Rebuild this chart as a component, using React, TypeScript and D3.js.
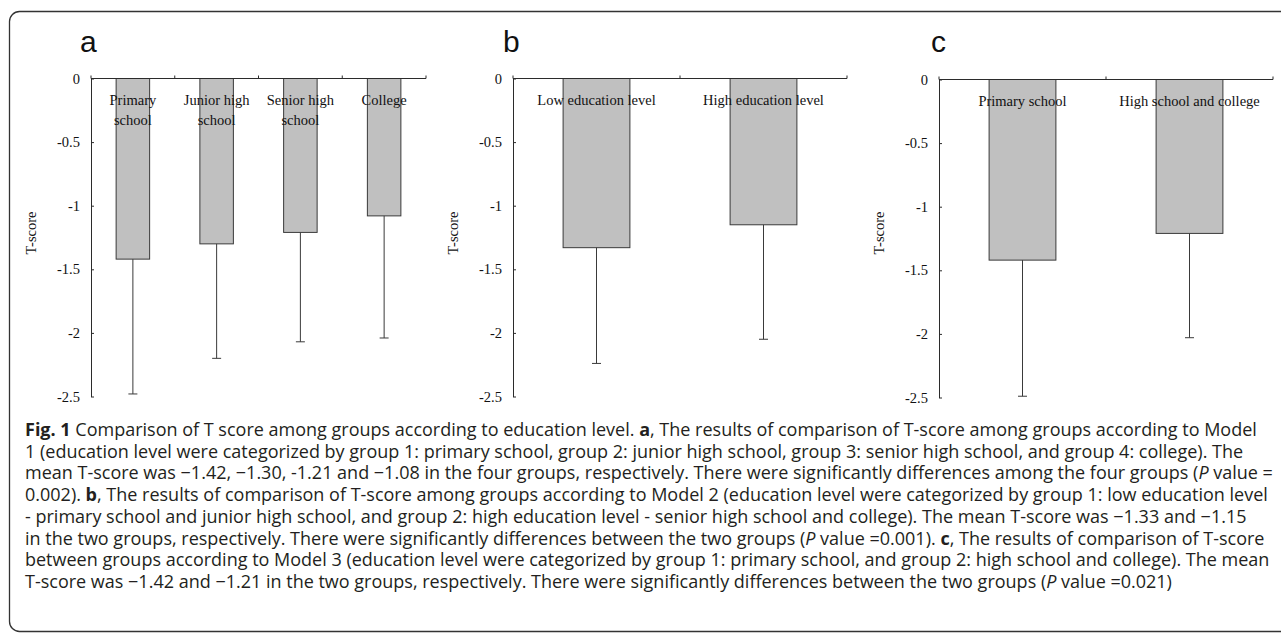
import React, { useEffect, useRef } from 'react';
import * as d3 from 'd3';

// tick labels shared by the three panels
const yTicks = [0, -0.5, -1, -1.5, -2, -2.5];

// panel a: model 1
const catsA = ['Primary\nschool', 'Junior high\nschool', 'Senior high\nschool', 'College'];
const meanA = [-1.42, -1.30, -1.21, -1.08];
const sdA = [1.06, 0.90, 0.86, 0.96];

// panel b: model 2
const catsB = ['Low education level', 'High education level'];
const meanB = [-1.33, -1.15];
const sdB = [0.91, 0.90];

// panel c: model 3
const catsC = ['Primary school', 'High school and college'];
const meanC = [-1.42, -1.21];
const sdC = [1.07, 0.82];

const ink = '#2b2b2b';
const serif = '"Liberation Serif", "Times New Roman", serif';

function drawPanel(svg, p) {
  const xb = d3.scaleBand().domain(p.cats).range([p.x0, p.x1]);
  const y = d3.scaleLinear().domain([0, -2.5]).range([p.y0, p.y1]);
  const bw = xb.bandwidth() * 0.4;
  const g = svg.append('g');

  // 柱子
  g.selectAll('rect.bar').data(p.means).join('rect')
    .attr('class', 'bar')
    .attr('x', (d, i) => xb(p.cats[i]) + xb.bandwidth() / 2 - bw / 2)
    .attr('y', y(0))
    .attr('width', bw)
    .attr('height', d => y(d) - y(0))
    .attr('fill', '#c0c0c0')
    .attr('stroke', '#3a3a3a')
    .attr('stroke-width', 1);

  // error bars (downwards only)
  const err = g.selectAll('g.err').data(p.means).join('g').attr('class', 'err');
  err.append('line')
    .attr('x1', (d, i) => xb(p.cats[i]) + xb.bandwidth() / 2)
    .attr('x2', (d, i) => xb(p.cats[i]) + xb.bandwidth() / 2)
    .attr('y1', d => y(d))
    .attr('y2', (d, i) => y(d - p.sds[i]))
    .attr('stroke', '#3a3a3a');
  err.append('line')
    .attr('x1', (d, i) => xb(p.cats[i]) + xb.bandwidth() / 2 - 4.5)
    .attr('x2', (d, i) => xb(p.cats[i]) + xb.bandwidth() / 2 + 4.5)
    .attr('y1', (d, i) => y(d - p.sds[i]))
    .attr('y2', (d, i) => y(d - p.sds[i]))
    .attr('stroke', '#3a3a3a');

  // y 轴
  const yAxis = d3.axisLeft(y)
    .tickValues(yTicks)
    .tickSizeInner(-3)
    .tickSizeOuter(0)
    .tickPadding(11)
    .tickFormat(d => String(d));
  const ya = g.append('g').attr('transform', `translate(${p.x0},0)`).call(yAxis);
  ya.select('.domain').attr('stroke', ink);
  ya.selectAll('.tick line').attr('stroke', ink);
  ya.selectAll('text')
    .attr('font-family', serif)
    .attr('font-size', 14.5)
    .attr('fill', '#111');

  // x 轴 (category boundaries, ticks pointing up)
  g.append('line')
    .attr('x1', p.x0).attr('x2', p.x1)
    .attr('y1', y(0)).attr('y2', y(0))
    .attr('stroke', ink);
  const bounds = p.cats.map(c => xb(c)).concat([p.x1]);
  g.selectAll('line.xt').data(bounds).join('line')
    .attr('class', 'xt')
    .attr('x1', d => d).attr('x2', d => d)
    .attr('y1', y(0)).attr('y2', y(0) - 3)
    .attr('stroke', ink);

  // category labels inside the plot
  const lab = g.selectAll('text.cat').data(p.cats).join('text')
    .attr('class', 'cat')
    .attr('text-anchor', 'middle')
    .attr('font-family', serif)
    .attr('font-size', 14.5)
    .attr('fill', '#111');
  lab.each(function (c) {
    const cx = xb(c) + xb.bandwidth() / 2;
    c.split('\n').forEach((s, k) => {
      d3.select(this).append('tspan')
        .attr('x', cx)
        .attr('y', y(0) + 26.5 + k * 19.5)
        .text(s);
    });
  });

  // T-score
  g.append('text')
    .attr('transform', `translate(${p.x0 - 55},233) rotate(-90)`)
    .attr('text-anchor', 'middle')
    .attr('font-family', serif)
    .attr('font-size', 14.5)
    .attr('fill', '#111')
    .text('T-score');

  // panel letter
  g.append('text')
    .attr('x', p.letterX)
    .attr('y', 52)
    .attr('font-family', '"Liberation Sans", Arial, sans-serif')
    .attr('font-size', 30)
    .attr('fill', '#111')
    .text(p.letter);
}

const captionLines = [
  [['b', 'Fig. 1'], ['', ' Comparison of T score among groups according to education level. '], ['b', 'a'], ['', ', The results of comparison of T-score among groups according to Model']],
  [['', '1 (education level were categorized by group 1: primary school, group 2: junior high school, group 3: senior high school, and group 4: college). The']],
  [['', 'mean T-score was \u22121.42, \u22121.30, -1.21 and \u22121.08 in the four groups, respectively. There were significantly differences among the four groups ('], ['i', 'P'], ['', ' value =']],
  [['', '0.002). '], ['b', 'b'], ['', ', The results of comparison of T-score among groups according to Model 2 (education level were categorized by group 1: low education level']],
  [['', '- primary school and junior high school, and group 2: high education level - senior high school and college). The mean T-score was \u22121.33 and \u22121.15']],
  [['', 'in the two groups, respectively. There were significantly differences between the two groups ('], ['i', 'P'], ['', ' value =0.001). '], ['b', 'c'], ['', ', The results of comparison of T-score']],
  [['', 'between groups according to Model 3 (education level were categorized by group 1: primary school, and group 2: high school and college). The mean']],
  [['', 'T-score was \u22121.42 and \u22121.21 in the two groups, respectively. There were significantly differences between the two groups ('], ['i', 'P'], ['', ' value =0.021)']],
];

export default function App() {
  const ref = useRef(null);

  useEffect(() => {
    const svg = d3.select(ref.current).select('g.charts');
    svg.selectAll('*').remove();
    drawPanel(svg, { cats: catsA, means: meanA, sds: sdA, x0: 91, x1: 426, y0: 78.5, y1: 396.5, letter: 'a', letterX: 80 });
    drawPanel(svg, { cats: catsB, means: meanB, sds: sdB, x0: 513, x1: 847, y0: 78.5, y1: 396.5, letter: 'b', letterX: 503 });
    drawPanel(svg, { cats: catsC, means: meanC, sds: sdC, x0: 939, x1: 1273, y0: 79.5, y1: 397.5, letter: 'c', letterX: 931 });

    // keep caption lines from running past the right edge of the text block
    d3.select(ref.current).selectAll('text.cap').each(function () {
      const w = this.getComputedTextLength();
      if (w > 1250) d3.select(this).attr('textLength', 1250).attr('lengthAdjust', 'spacing');
    });
  }, []);

  return (
    <div style={{ position: 'absolute', left: 0, top: 0 }}>
      <svg ref={ref} width={1281} height={633} style={{ display: 'block', background: '#fff' }}>
        <rect x={9.5} y={11.5} width={1300} height={620} rx={10} fill="none" stroke="#333" strokeWidth={1.3} />
        <g className="charts" />
        <g fontFamily='"Open Sans", "Noto Sans", sans-serif' fontSize={18} fill="#231f20">
          {captionLines.map((line, i) => (
            <text key={i} className="cap" x={25} y={436 + i * 21.7}>
              {line.map((s, k) => (
                <tspan key={k}
                  fontWeight={s[0] === 'b' ? 'bold' : undefined}
                  fontStyle={s[0] === 'i' ? 'italic' : undefined}>{s[1]}</tspan>
              ))}
            </text>
          ))}
        </g>
      </svg>
    </div>
  );
}
